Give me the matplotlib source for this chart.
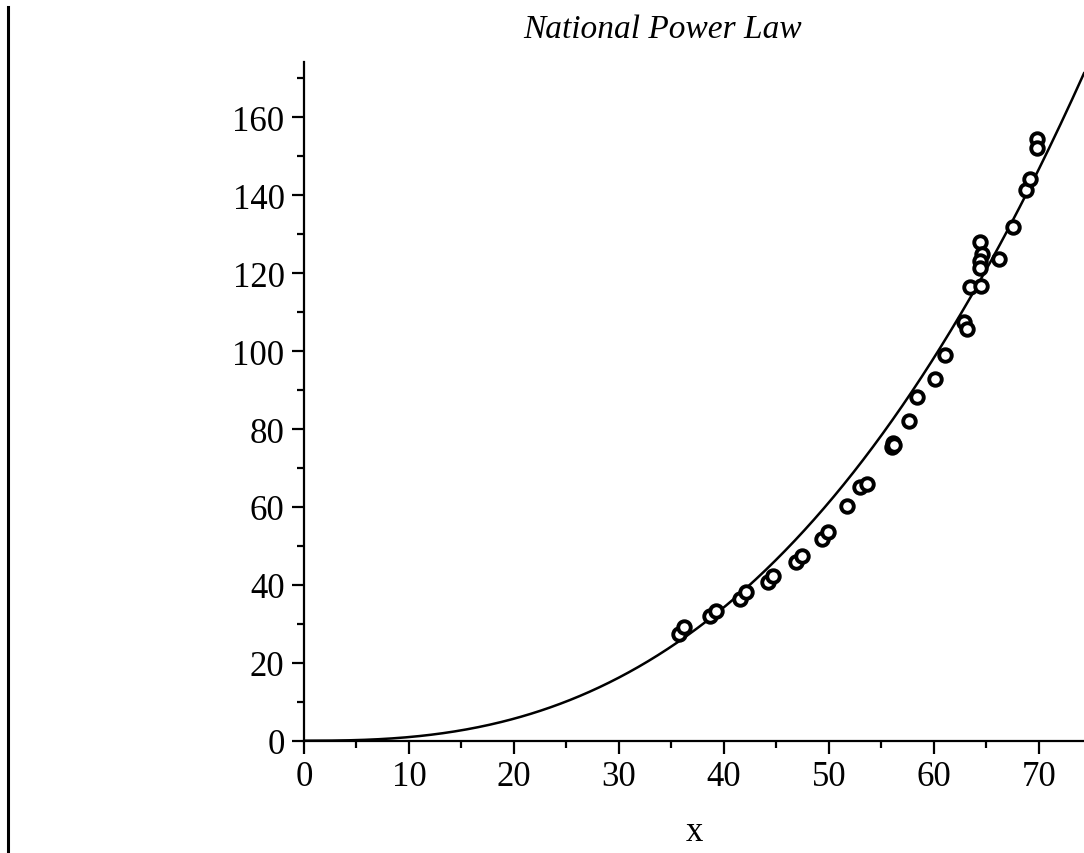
"""National power law scatter with fitted curve."""

import matplotlib

matplotlib.use("Agg")
import matplotlib.pyplot as plt
import numpy as np
from matplotlib.lines import Line2D
from matplotlib.ticker import MultipleLocator

x_obs = [
    35.7, 36.2, 38.7, 39.2, 41.5, 42.1, 44.2, 44.7, 46.9, 47.4,
    49.3, 49.9, 51.7, 53.0, 53.6, 56.0, 56.1, 56.2, 57.6, 58.4,
    60.1, 61.1, 62.9, 63.2, 63.4, 64.5, 64.4, 64.6, 64.4, 64.4,
    66.2, 67.5, 68.8, 69.2, 69.8, 69.8,
]
y_obs = [
    27.4, 29.3, 32.1, 33.3, 36.4, 38.1, 40.7, 42.4, 45.8, 47.5,
    51.8, 53.6, 60.2, 65.0, 66.0, 75.3, 76.5, 75.9, 82.0, 88.1,
    92.8, 99.1, 107.5, 105.7, 116.4, 116.8, 128.0, 124.9, 123.2, 121.4,
    123.6, 131.9, 141.4, 144.2, 154.5, 152.0,
]

# fitted power law y = a * x**b
fit_a = 0.00234
fit_b = 2.6

x_max = 74.3
y_max = 174.2

plt.rcParams["font.family"] = ["Liberation Serif", "DejaVu Serif"]

fig = plt.figure(figsize=(10.84, 8.54), dpi=100)
ax = fig.add_axes([304 / 1084, 112.3 / 854, 780 / 1084, 678.7 / 854])

xs = np.linspace(0, x_max, 400)
ax.plot(xs, fit_a * xs ** fit_b, color="black", lw=1.8, zorder=2)
ax.plot(
    x_obs, y_obs, linestyle="none", marker="o", markersize=9,
    markerfacecolor="white", markeredgecolor="black", markeredgewidth=2.8,
    zorder=3, clip_on=False,
)

ax.set_xlim(0, x_max)
ax.set_ylim(0, y_max)
for side in ("top", "right"):
    ax.spines[side].set_visible(False)
for side in ("left", "bottom"):
    ax.spines[side].set_linewidth(1.6)

ax.xaxis.set_major_locator(MultipleLocator(10))
ax.xaxis.set_minor_locator(MultipleLocator(5))
ax.yaxis.set_major_locator(MultipleLocator(20))
ax.yaxis.set_minor_locator(MultipleLocator(10))
ax.tick_params(which="major", length=9, width=1.6, labelsize=25, pad=5)
ax.tick_params(which="minor", length=5, width=1.6)

ax.set_xlabel("x", fontsize=25, labelpad=16)

fig.text(663 / 1084, 1 - 30 / 854, "National Power Law", fontsize=24,
         style="italic", ha="center", va="center")

# frame line down the left edge
fig.add_artist(Line2D([8 / 1084, 8 / 1084], [0, 1 - 8 / 854],
                      color="black", lw=2.2, transform=fig.transFigure))

fig.savefig("out.png", dpi=100)
plt.close(fig)
